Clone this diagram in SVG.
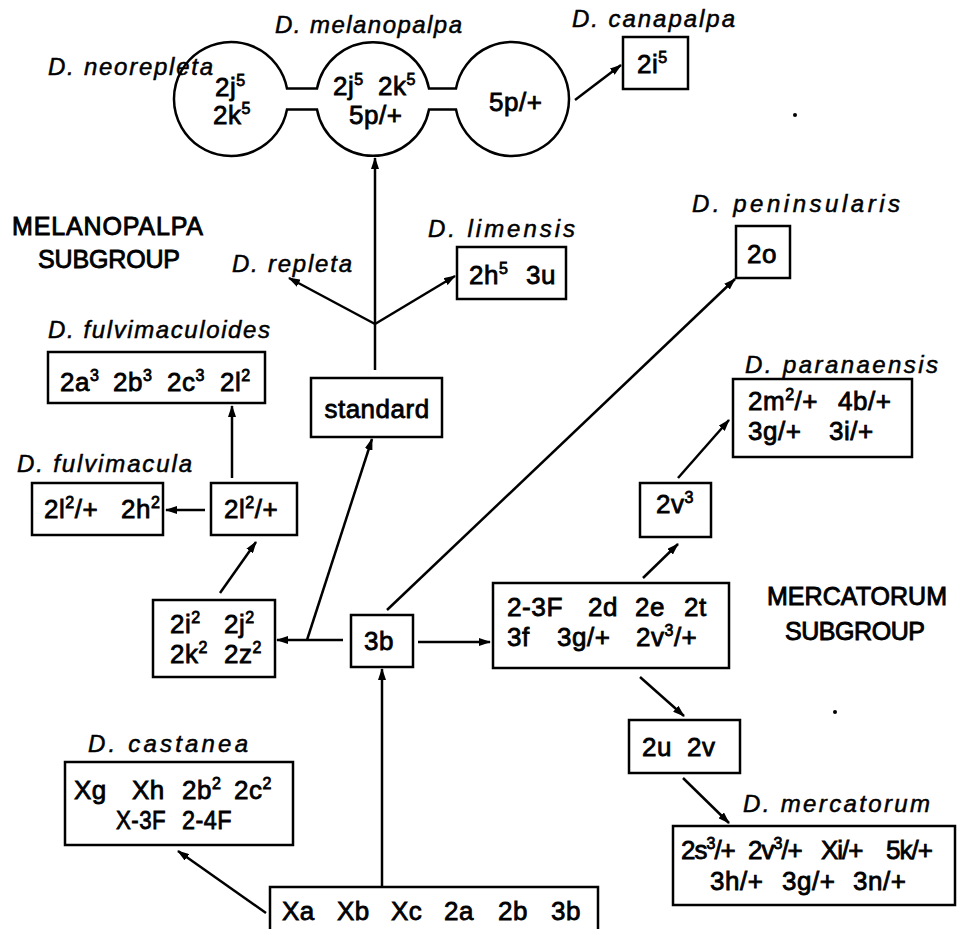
<svg xmlns="http://www.w3.org/2000/svg" width="965" height="929" viewBox="0 0 965 929">
  <defs>
    <style>
      .t { font-family: "Liberation Sans", Arial, sans-serif; font-size: 26px; letter-spacing: 0.5px; fill: #000; stroke: #000; stroke-width: 0.8; }
      .tight { letter-spacing: -1px; }
      .sup { font-size: 16px; }
      .sp { font-family: "Liberation Sans", Arial, sans-serif; font-style: italic; font-size: 24px; fill: #000; stroke: #000; stroke-width: 0.5; }
      .grp { font-family: "Liberation Sans", Arial, sans-serif; font-size: 25px; fill: #000; stroke: #000; stroke-width: 0.9; }
      .box { fill: none; stroke: #000; stroke-width: 2.5; }
      .ln { fill: none; stroke: #000; stroke-width: 2.5; marker-end: url(#ah); }
      .plain { fill: none; stroke: #000; stroke-width: 2.5; }
    </style>
    <marker id="ah" viewBox="0 0 12 8" refX="11" refY="4" markerWidth="12" markerHeight="8" markerUnits="userSpaceOnUse" orient="auto">
      <path d="M0,0 L12,4 L0,8 z" fill="#000"/>
    </marker>
  </defs>
  <rect width="965" height="929" fill="#fff"/>

  <!-- subgroup headings -->
  <g id="melanopalpa-subgroup">
    <text class="grp" x="12" y="235" textLength="191" lengthAdjust="spacing">MELANOPALPA</text>
    <text class="grp" x="38" y="268" textLength="142" lengthAdjust="spacing">SUBGROUP</text>
  </g>
  <g id="mercatorum-subgroup">
    <text class="grp" x="767" y="605" textLength="180" lengthAdjust="spacing">MERCATORUM</text>
    <text class="grp" x="785" y="640" textLength="140" lengthAdjust="spacing">SUBGROUP</text>
  </g>

  <!-- connectors -->
  <g id="connectors">
    <path class="ln" d="M382,887 V669"/>
    <path class="ln" d="M266,913 L178,851"/>
    <path class="ln" d="M343,640 H277"/>
    <path class="ln" d="M307,640 L372,439"/>
    <path class="ln" d="M387,610 L735,279"/>
    <path class="ln" d="M418,642 H490"/>
    <path class="ln" d="M643,578 L678,544"/>
    <path class="ln" d="M678,478 L729,420"/>
    <path class="ln" d="M640,677 L684,716"/>
    <path class="ln" d="M683,778 L729,823"/>
    <path class="ln" d="M220,593 L256,542"/>
    <path class="ln" d="M205,510 H166"/>
    <path class="ln" d="M232,478 V406"/>
    <path class="ln" d="M375,370 V158"/>
    <path class="ln" d="M375,324 L289,278"/>
    <path class="ln" d="M375,324 L455,276"/>
    <path class="ln" d="M575,100 L621,65"/>
  </g>

  <!-- joined circles: neorepleta / melanopalpa / intermediate -->
  <g id="melanopalpa">
    <path class="plain" d="M287,88.5 H317 A57,57 0 0 1 429,88.5 H456 A57,57 0 1 1 456,109.5 H429 A57,57 0 0 1 317,109.5 H287 A57,57 0 1 1 287,88.5 Z"/>
    <text class="sp" x="275" y="33" textLength="187" lengthAdjust="spacing">D. melanopalpa</text>
    <text class="t" x="333" y="95">2j<tspan class="sup" dy="-10">5</tspan></text>
    <text class="t" x="378" y="95">2k<tspan class="sup" dy="-10">5</tspan></text>
    <text class="t" x="349" y="124">5p/+</text>
  </g>
  <g id="neorepleta">
    <text class="sp" x="48" y="75" textLength="165" lengthAdjust="spacing">D. neorepleta</text>
    <text class="t" x="215" y="96">2j<tspan class="sup" dy="-10">5</tspan></text>
    <text class="t" x="213" y="124">2k<tspan class="sup" dy="-10">5</tspan></text>
  </g>
  <g id="circle-5p">
    <text class="t" x="489" y="111">5p/+</text>
  </g>

  <g id="canapalpa">
    <text class="sp" x="572" y="27" textLength="163" lengthAdjust="spacing">D. canapalpa</text>
    <rect class="box" x="623" y="37" width="65" height="52"/>
    <text class="t" x="637" y="73">2i<tspan class="sup" dy="-10">5</tspan></text>
  </g>

  <g id="repleta">
    <text class="sp" x="232" y="272" textLength="120" lengthAdjust="spacing">D. repleta</text>
  </g>

  <g id="limensis">
    <text class="sp" x="428" y="237" textLength="147" lengthAdjust="spacing">D. limensis</text>
    <rect class="box" x="457" y="247" width="109" height="52"/>
    <text class="t" x="469" y="284">2h<tspan class="sup" dy="-10">5</tspan></text>
    <text class="t" x="526" y="284">3u</text>
  </g>

  <g id="peninsularis">
    <text class="sp" x="692" y="212" textLength="208" lengthAdjust="spacing">D. peninsularis</text>
    <rect class="box" x="736" y="226" width="54" height="52"/>
    <text class="t" x="747" y="263">2o</text>
  </g>

  <g id="standard">
    <rect class="box" x="311" y="378" width="131" height="59"/>
    <text class="t" x="377" y="418" text-anchor="middle">standard</text>
  </g>

  <g id="fulvimaculoides">
    <text class="sp" x="48" y="338" textLength="222" lengthAdjust="spacing">D. fulvimaculoides</text>
    <rect class="box" x="48" y="352" width="217" height="51"/>
    <text class="t" x="60" y="391">2a<tspan class="sup" dy="-10">3</tspan></text>
    <text class="t" x="113" y="391">2b<tspan class="sup" dy="-10">3</tspan></text>
    <text class="t" x="167" y="391">2c<tspan class="sup" dy="-10">3</tspan></text>
    <text class="t" x="220" y="391">2l<tspan class="sup" dy="-10">2</tspan></text>
  </g>

  <g id="fulvimacula">
    <text class="sp" x="17" y="472" textLength="175" lengthAdjust="spacing">D. fulvimacula</text>
    <rect class="box" x="32" y="483" width="131" height="52"/>
    <text class="t" x="44" y="518">2l<tspan class="sup" dy="-10">2</tspan><tspan dy="10">/+</tspan></text>
    <text class="t" x="121" y="518">2h<tspan class="sup" dy="-10">2</tspan></text>
  </g>

  <g id="n-2l2">
    <rect class="box" x="211" y="483" width="86" height="52"/>
    <text class="t" x="224" y="518">2l<tspan class="sup" dy="-10">2</tspan><tspan dy="10">/+</tspan></text>
  </g>

  <g id="n-2i2">
    <rect class="box" x="153" y="600" width="122" height="77"/>
    <text class="t" x="170" y="633">2i<tspan class="sup" dy="-10">2</tspan></text>
    <text class="t" x="224" y="633">2j<tspan class="sup" dy="-10">2</tspan></text>
    <text class="t" x="170" y="663">2k<tspan class="sup" dy="-10">2</tspan></text>
    <text class="t" x="224" y="663">2z<tspan class="sup" dy="-10">2</tspan></text>
  </g>

  <g id="n-3b">
    <rect class="box" x="351" y="615" width="62" height="52"/>
    <text class="t" x="364" y="650">3b</text>
  </g>

  <g id="n-23F">
    <rect class="box" x="493" y="583" width="236" height="85"/>
    <text class="t" x="507" y="616" textLength="56" lengthAdjust="spacingAndGlyphs">2-3F</text>
    <text class="t" x="588" y="616">2d</text>
    <text class="t" x="635" y="616">2e</text>
    <text class="t" x="684" y="616">2t</text>
    <text class="t" x="507" y="646">3f</text>
    <text class="t" x="557" y="646">3g/+</text>
    <text class="t" x="636" y="646">2v<tspan class="sup" dy="-10">3</tspan><tspan dy="10">/+</tspan></text>
  </g>

  <g id="n-2v3">
    <rect class="box" x="640" y="483" width="71" height="54"/>
    <text class="t" x="656" y="513">2v<tspan class="sup" dy="-10">3</tspan></text>
  </g>

  <g id="paranaensis">
    <text class="sp" x="745" y="373" textLength="193" lengthAdjust="spacing">D. paranaensis</text>
    <rect class="box" x="733" y="379" width="179" height="78"/>
    <text class="t" x="748" y="410">2m<tspan class="sup" dy="-10">2</tspan><tspan dy="10">/+</tspan></text>
    <text class="t" x="838" y="410">4b/+</text>
    <text class="t" x="748" y="440">3g/+</text>
    <text class="t" x="829" y="440">3i/+</text>
  </g>

  <g id="n-2u2v">
    <rect class="box" x="629" y="720" width="111" height="53"/>
    <text class="t" x="642" y="756">2u</text>
    <text class="t" x="687" y="756">2v</text>
  </g>

  <g id="mercatorum">
    <text class="sp" x="743" y="812" textLength="187" lengthAdjust="spacing">D. mercatorum</text>
    <rect class="box" x="673" y="826" width="282" height="79"/>
    <text class="t tight" x="681" y="859">2s<tspan class="sup" dy="-10">3</tspan><tspan dy="10">/+</tspan></text>
    <text class="t tight" x="748" y="859">2v<tspan class="sup" dy="-10">3</tspan><tspan dy="10">/+</tspan></text>
    <text class="t tight" x="821" y="859">Xi/+</text>
    <text class="t tight" x="886" y="859">5k/+</text>
    <text class="t" x="710" y="890">3h/+</text>
    <text class="t" x="782" y="890">3g/+</text>
    <text class="t" x="853" y="890">3n/+</text>
  </g>

  <g id="castanea">
    <text class="sp" x="88" y="752" textLength="160" lengthAdjust="spacing">D. castanea</text>
    <rect class="box" x="65" y="762" width="228" height="83"/>
    <text class="t" x="74" y="799">Xg</text>
    <text class="t" x="132" y="799">Xh</text>
    <text class="t" x="182" y="799">2b<tspan class="sup" dy="-10">2</tspan></text>
    <text class="t" x="234" y="799">2c<tspan class="sup" dy="-10">2</tspan></text>
    <text class="t" x="116" y="829" textLength="50" lengthAdjust="spacingAndGlyphs">X-3F</text>
    <text class="t" x="182" y="829" textLength="50" lengthAdjust="spacingAndGlyphs">2-4F</text>
  </g>

  <g id="ancestral">
    <path class="plain" d="M270,929 V887 H598 V929"/>
    <text class="t" x="282" y="920">Xa</text>
    <text class="t" x="337" y="920">Xb</text>
    <text class="t" x="391" y="920">Xc</text>
    <text class="t" x="444" y="920">2a</text>
    <text class="t" x="498" y="920">2b</text>
    <text class="t" x="551" y="920">3b</text>
  </g>

  <!-- specks -->
  <circle cx="795" cy="115" r="2" fill="#000"/>
  <circle cx="835" cy="712" r="2" fill="#000"/>
</svg>
